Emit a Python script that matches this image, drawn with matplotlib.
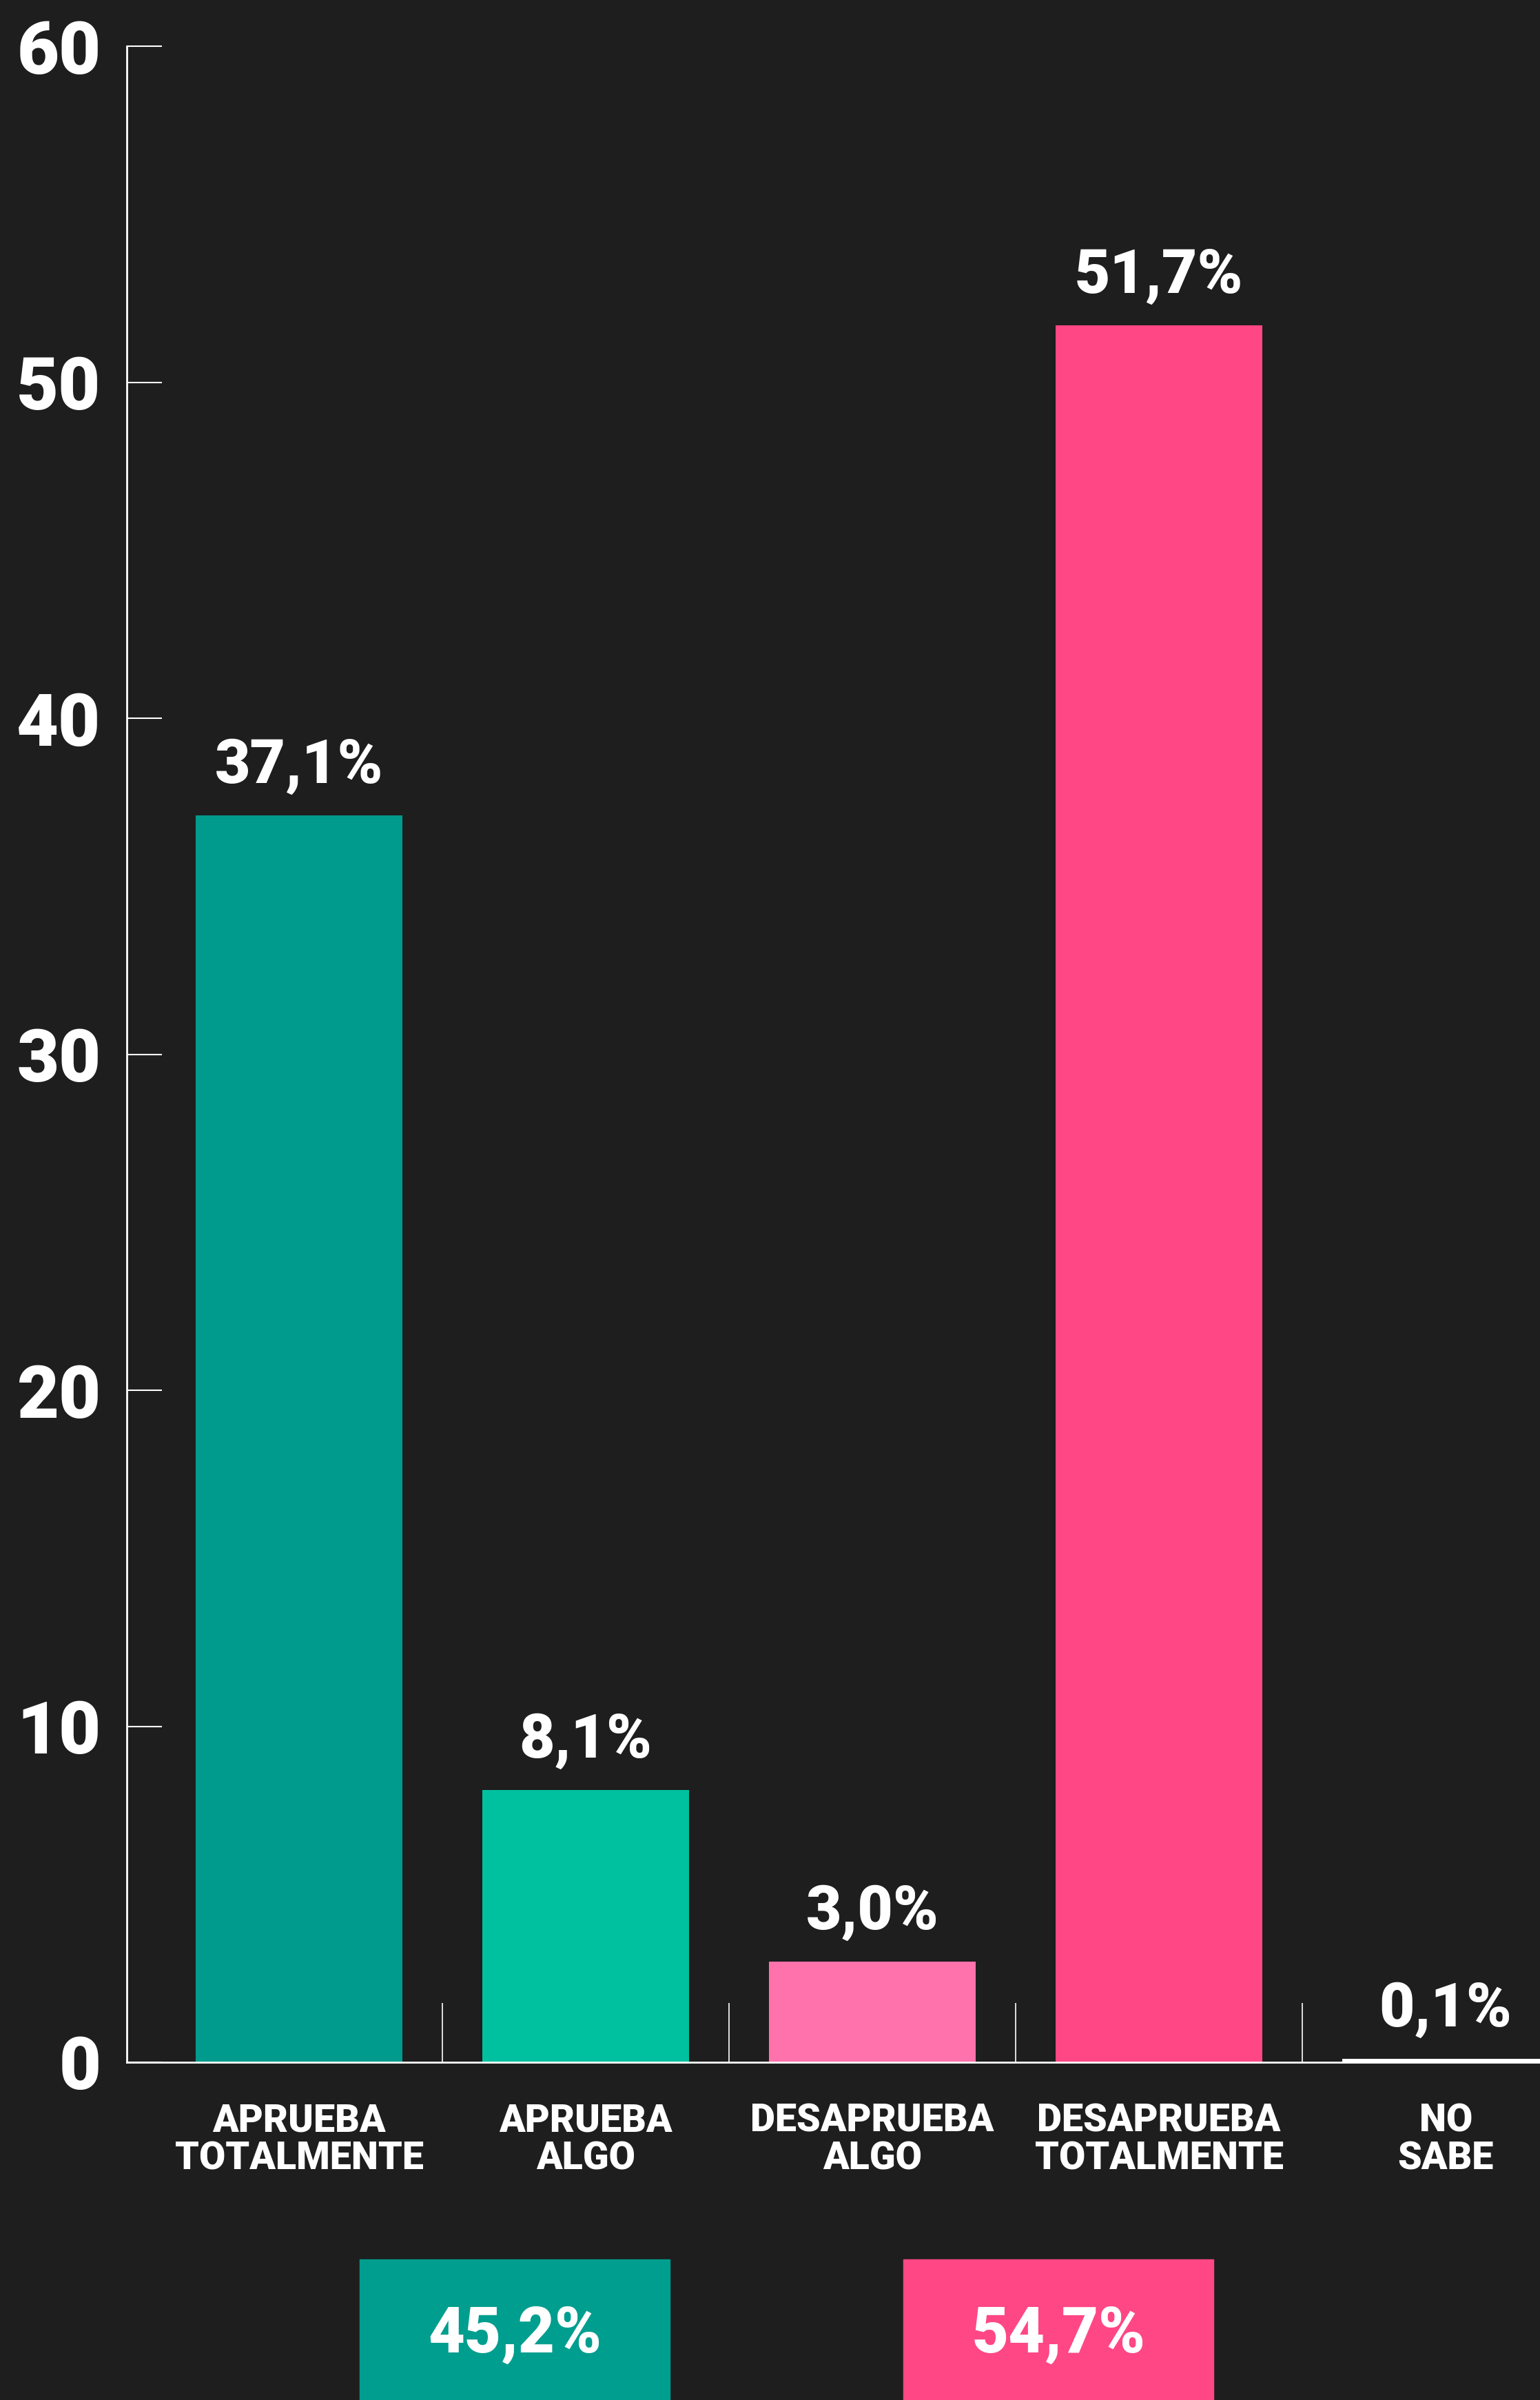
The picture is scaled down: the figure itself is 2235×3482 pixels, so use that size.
import matplotlib.pyplot as plt
from matplotlib.patches import Rectangle

# Data
categories = ["APRUEBA\nTOTALMENTE", "APRUEBA\nALGO", "DESAPRUEBA\nALGO",
              "DESAPRUEBA\nTOTALMENTE", "NO\nSABE"]
values = [37.1, 8.1, 3.0, 51.7, 0.1]
bar_colors = ["#009B8D", "#00C19F", "#FF72AB", "#FF4785", "#FFFFFF"]
yticks = [0, 10, 20, 30, 40, 50, 60]

totals = [45.2, 54.7]
total_colors = ["#009E8E", "#FF4785"]

bg = "#1e1e1e"
plt.rcParams['font.family'] = ['Roboto', 'DejaVu Sans']
wt = "black"

W, H = 2235, 3482
fig = plt.figure(figsize=(W / 100, H / 100), dpi=100, facecolor=bg)

# axes placed in pixel terms of the reference
left, right, top, bottom = 184, 2235, 67, 2992
ax = fig.add_axes([left / W, 1 - bottom / H, (right - left) / W, (bottom - top) / H])
ax.set_facecolor(bg)

x = list(range(len(values)))
ax.bar(x, values, width=0.72, color=bar_colors, zorder=2)
ax.set_xlim(-0.601, 4.329)
ax.set_ylim(0, 60)

for xi, v in zip(x, values):
    ax.annotate(f"{v:.1f}".replace(".", ",") + "%", (xi, v),
                xytext=(0, 34), textcoords="offset points",
                ha="center", va="baseline", color="white",
                fontsize=64, fontweight=wt)

for s in ["top", "right"]:
    ax.spines[s].set_visible(False)
for s in ["left", "bottom"]:
    ax.spines[s].set_color("white")
    ax.spines[s].set_linewidth(2)

ax.set_yticks(yticks)
ax.set_yticklabels([str(t) for t in yticks])
ax.tick_params(axis="y", direction="in", length=37, width=1.5, color="white",
               labelcolor="white", labelsize=76, pad=27)
for lab in ax.get_yticklabels():
    lab.set_fontweight(wt)

ax.set_xticks(x)
ax.set_xticklabels(categories, fontsize=40, fontweight=wt, color="white",
                   linespacing=1.05)
ax.tick_params(axis="x", which="major", length=0, pad=42)
ax.set_xticks([0.5, 1.5, 2.5, 3.5], minor=True)
ax.tick_params(axis="x", which="minor", direction="in", length=62, width=1.2,
               color="white")

# summary boxes at the bottom
box_x = [522, 1311]
box_w = 450
box_top = 3278
for bx, t, c in zip(box_x, totals, total_colors):
    fig.patches.append(Rectangle((bx / W, 0), box_w / W, 1 - box_top / H,
                                 transform=fig.transFigure, color=c))
    fig.text((bx + box_w / 2) / W, 1 - 3413 / H,
             f"{t:.1f}".replace(".", ",") + "%", ha="center", va="baseline",
             color="white", fontsize=66, fontweight=wt)

fig.savefig("out.png", dpi=100, facecolor=bg)
